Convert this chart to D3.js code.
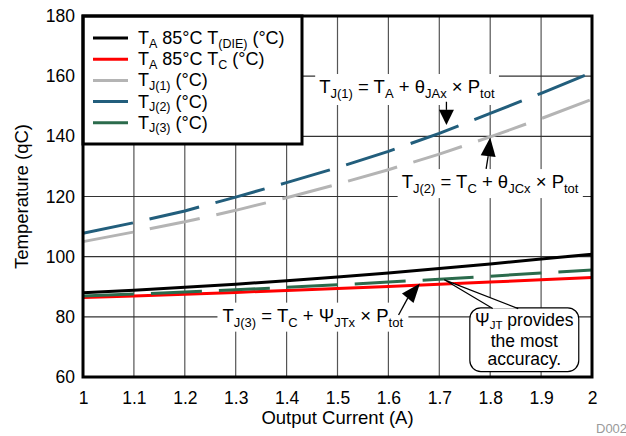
<!DOCTYPE html>
<html><head><meta charset="utf-8">
<script src="https://cdn.jsdelivr.net/npm/d3@7"></script>
<style>
html,body{margin:0;padding:0;background:#fff;}
svg{display:block;font-family:"Liberation Sans",Arial,sans-serif;}
</style></head>
<body><svg id="c" width="626" height="436"></svg>
<script>
// ---- data ----
const current = [1.0,1.1,1.2,1.3,1.4,1.5,1.6,1.7,1.8,1.9,2.0];
const tDie  = [88.0,88.85,89.8,90.85,92.0,93.25,94.6,96.05,97.6,99.25,100.8];
const tCase = [86.4,86.95,87.53,88.13,88.76,89.42,90.11,90.82,91.56,92.32,93.1];
const tj1   = [105.0,108.2,111.6,115.4,119.6,124.1,128.9,134.1,139.8,145.9,152.3];
const tj2   = [107.8,111.3,115.2,119.8,124.6,129.6,135.0,141.0,147.6,154.3,161.2];
const tj3   = [86.9,87.55,88.25,89.0,89.8,90.65,91.55,92.5,93.5,94.55,95.6];
const xTicks = [1,1.1,1.2,1.3,1.4,1.5,1.6,1.7,1.8,1.9,2];
const yTicks = [60,80,100,120,140,160,180];
const seriesNames = [
  [["T",""],["A","sub"],[" 85°C T",""],["(DIE)","sub"],[" (°C)",""]],
  [["T",""],["A","sub"],[" 85°C T",""],["C","sub"],[" (°C)",""]],
  [["T",""],["J(1)","sub"],[" (°C)",""]],
  [["T",""],["J(2)","sub"],[" (°C)",""]],
  [["T",""],["J(3)","sub"],[" (°C)",""]]
];
const seriesValues = [tDie,tCase,tj1,tj2,tj3];
const seriesColors = ["#000000","#ff0000","#b4b4b4","#225e7c","#2b6b4c"];
const seriesDashed = [false,false,true,true,true];

// ---- layout ----
const L=83,R=592,T=16,B=377;
const x=d3.scaleLinear().domain([1,2]).range([L,R]);
const y=d3.scaleLinear().domain([60,180]).range([B,T]);
const svg=d3.select("#c");
const FS=18.5, SFS=13, TFS=17.5;

function rich(sel, parts, fs, sfs, off){
  off = off||5;
  let sub=false;
  parts.forEach(([t,k])=>{
    const ts=sel.append("tspan").text(t);
    if(k==="sub"){ts.attr("font-size",sfs).attr("dy",off);sub=true;}
    else {ts.attr("font-size",fs); if(sub){ts.attr("dy",-off);sub=false;}}
  });
  return sel;
}

// grid
svg.append("g").selectAll("line").data(xTicks.slice(1,-1)).join("line")
  .attr("x1",d=>x(d)).attr("x2",d=>x(d)).attr("y1",T).attr("y2",B)
  .attr("stroke","#555").attr("stroke-width",1.2);
svg.append("g").selectAll("line").data(yTicks.slice(1,-1)).join("line")
  .attr("x1",L).attr("x2",R).attr("y1",d=>y(d)).attr("y2",d=>y(d))
  .attr("stroke","#333").attr("stroke-width",1.2);

// axes
const xa=svg.append("g").attr("transform",`translate(0,${B})`)
  .call(d3.axisBottom(x).tickValues(xTicks).tickSize(0).tickPadding(15).tickFormat(d3.format("")));
const ya=svg.append("g").attr("transform",`translate(${L},0)`)
  .call(d3.axisLeft(y).tickValues(yTicks).tickSize(0).tickPadding(8));
[xa,ya].forEach(a=>{a.select(".domain").remove();a.selectAll("text").attr("font-size",TFS).attr("fill","#000").attr("font-family","Liberation Sans, Arial, sans-serif");});

// series
const line=d3.line().x((d,i)=>x(current[i])).y(d=>y(d));
seriesValues.forEach((vals,k)=>{
  svg.append("path").datum(vals).attr("d",line).attr("fill","none")
    .attr("stroke",seriesColors[k]).attr("stroke-width",3)
    .attr("stroke-dasharray",seriesDashed[k]?"51,17":null);
});

// annotations
function label(u,v,parts,pad){
  const g=svg.append("g");
  const t=g.append("text").attr("x",x(u)).attr("y",y(v)).attr("fill","#000");
  rich(t,parts,FS,SFS);
  const bb=t.node().getBBox();
  g.insert("rect","text").attr("x",bb.x-pad[0]).attr("y",bb.y-pad[1])
    .attr("width",bb.width+pad[0]*2).attr("height",bb.height+pad[1]+pad[2]).attr("fill","#fff");
}
label(1.464,154.4,[["T",""],["J(1)","sub"],[" = T",""],["A","sub"],[" + θ",""],["JAx","sub"],[" × P",""],["tot","sub"]],[4,2,4]);
label(1.626,122.8,[["T",""],["J(2)","sub"],[" = T",""],["C","sub"],[" + θ",""],["JCx","sub"],[" × P",""],["tot","sub"]],[4,2,2]);
label(1.274,78.4,[["T",""],["J(3)","sub"],[" = T",""],["C","sub"],[" + Ψ",""],["JTx","sub"],[" × P",""],["tot","sub"]],[5,2,2]);

function arrow(x0,y0,bx,by,tx,ty,w){
  svg.append("line").attr("x1",x0).attr("y1",y0).attr("x2",bx).attr("y2",by).attr("stroke","#000").attr("stroke-width",1.3);
  const dx=tx-bx, dy=ty-by, len=Math.hypot(dx,dy), nx=-dy/len*w/2, ny=dx/len*w/2;
  svg.append("path").attr("d",`M${tx},${ty}L${bx+nx},${by+ny}L${bx-nx},${by-ny}Z`).attr("fill","#000");
}
arrow(x(1.714),y(151.5),x(1.714),y(148.8),x(1.714),y(143.8),15);
arrow(x(1.792),y(129.2),x(1.796),y(133.4),x(1.8),y(139.6),15);
arrow(x(1.62),y(80.6),x(1.638),y(86.2),x(1.662),y(91.1),15);

// callout
const cg=svg.append("g");
const bx0=x(1.76), bx1=x(1.974), by0=y(83.0), by1=y(61.8);
cg.append("rect").attr("x",bx0).attr("y",by0).attr("width",bx1-bx0).attr("height",by1-by0)
  .attr("rx",11).attr("ry",11).attr("fill","#fff").attr("stroke","#000").attr("stroke-width",1.2);
cg.append("path").attr("d",`M${x(1.805)},${by0+0.8}L${x(1.71)},${y(92.3)}L${x(1.855)},${by0+0.8}`)
  .attr("fill","#fff").attr("stroke","#000").attr("stroke-width",1.2);
const cx=(bx0+bx1)/2;
const t1=cg.append("text").attr("x",cx).attr("y",by0+18.5).attr("text-anchor","middle");
rich(t1,[["Ψ",""],["JT","sub"],[" provides",""]],17.5,11.5,3);
cg.append("text").attr("x",cx).attr("y",by0+39).attr("text-anchor","middle").attr("font-size",17.5).text("the most");
cg.append("text").attr("x",cx).attr("y",by0+57.5).attr("text-anchor","middle").attr("font-size",17.5).text("accuracy.");

// legend
const lg=svg.append("g");
lg.append("rect").attr("x",L).attr("y",T).attr("width",219).attr("height",128)
  .attr("fill","#fff").attr("stroke","#000").attr("stroke-width",3);
seriesNames.forEach((parts,k)=>{
  const yy=T+22+k*21.2;
  lg.append("line").attr("x1",L+10).attr("x2",L+45).attr("y1",yy).attr("y2",yy)
    .attr("stroke",seriesColors[k]).attr("stroke-width",3);
  const t=lg.append("text").attr("x",L+55).attr("y",yy+6);
  rich(t,parts,18,12.5,3.5);
});

// frame
svg.append("rect").attr("x",L).attr("y",T).attr("width",R-L).attr("height",B-T)
  .attr("fill","none").attr("stroke","#000").attr("stroke-width",3);

// titles
svg.append("text").attr("x",(L+R)/2).attr("y",424).attr("text-anchor","middle").attr("font-size",FS).text("Output Current (A)");
svg.append("text").attr("transform",`translate(28,${(T+B)/2}) rotate(-90)`).attr("text-anchor","middle").attr("font-size",FS).text("Temperature (qC)");
svg.append("text").attr("x",596).attr("y",433).attr("font-size",13).attr("fill","#9a9a9a").text("D002");
</script></body></html>
